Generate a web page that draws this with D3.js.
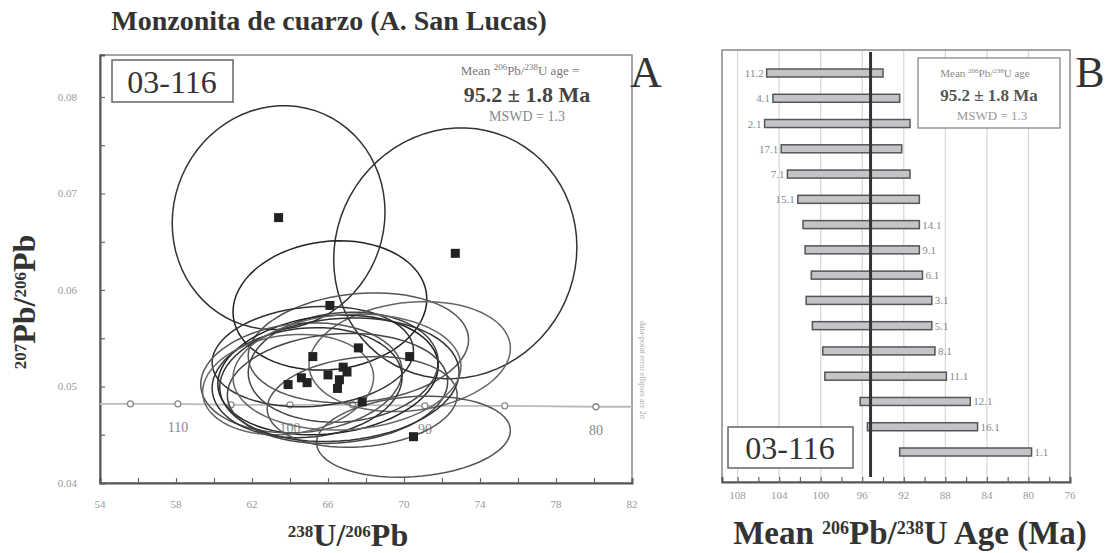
<!DOCTYPE html>
<html><head><meta charset="utf-8">
<script src="https://cdn.jsdelivr.net/npm/d3@7"></script>
<style>body{margin:0;background:#fff}svg{display:block}</style>
</head><body>
<svg id="fig" width="1107" height="553"></svg>
<script>
// ---- Panel A: Tera-Wasserburg plot of zircon spots ----
const spotX   = [63.4, 72.7, 66.1, 67.6, 65.2, 70.3, 66.8, 66.0, 64.6, 64.9, 63.9, 66.5, 67.8, 70.5, 66.6, 67.0];
const spotY   = [0.0675, 0.0638, 0.0584, 0.0540, 0.0531, 0.0531, 0.0520, 0.0512, 0.0509, 0.0504, 0.0502, 0.0498, 0.0484, 0.0448, 0.0507, 0.0515];
const spotSX  = [5.6, 6.4, 5.1, 5.8, 5.3, 5.3, 5.0, 5.8, 5.3, 5.0, 4.5, 5.8, 5.0, 5.1, 6.3, 6.0];
const spotSY  = [0.0116, 0.0130, 0.0067, 0.0057, 0.0052, 0.0057, 0.0057, 0.0062, 0.0057, 0.0057, 0.0052, 0.0057, 0.0047, 0.0042, 0.0064, 0.0060];
const spotRho = [0.05, 0.05, 0.10, 0.15, 0.12, 0.15, 0.10, 0.15, 0.12, 0.10, 0.15, 0.12, 0.15, 0.15, 0.12, 0.10];

// concordia curve and its age marks (Ma)
const concLineX = [54, 55.6, 58.1, 60.9, 64.0, 67.3, 71.1, 75.3, 80.1, 82];
const concLineY = [0.0482, 0.0482, 0.0482, 0.0481, 0.0481, 0.0481, 0.0480, 0.0480, 0.0479, 0.0479];
const concAges  = [115, 110, 105, 100, 95, 90, 85, 80];
const concX     = [55.6, 58.1, 60.9, 64.0, 67.3, 71.1, 75.3, 80.1];
const concY     = [0.0482, 0.0482, 0.0481, 0.0481, 0.0481, 0.0480, 0.0480, 0.0479];
const concLabelAges = [110, 100, 90, 80];

const ticksAX = [54, 58, 62, 66, 70, 74, 78, 82];
const ticksAY = [0.04, 0.05, 0.06, 0.07, 0.08];

// ---- Panel B: weighted mean of 206Pb/238U ages ----
const spotIds = ["11.2", "4.1", "2.1", "17.1", "7.1", "15.1", "14.1", "9.1", "6.1", "3.1", "5.1", "8.1", "11.1", "12.1", "16.1", "1.1"];
const spotAge = [99.6, 98.5, 98.4, 98.0, 97.3, 96.35, 96.1, 96.0, 95.55, 95.35, 95.05, 94.4, 93.75, 90.9, 90.2, 86.05];
const spotErr = [5.6, 6.1, 7.0, 5.8, 5.9, 5.85, 5.6, 5.5, 5.35, 6.05, 5.75, 5.4, 5.85, 5.3, 5.3, 6.35];
const labelsLeft = ["11.2", "4.1", "2.1", "17.1", "7.1", "15.1"];
const ticksB = [108, 104, 100, 96, 92, 88, 84, 80, 76];
const meanAge = 95.2, meanErr = 1.8, mswd = 1.3;
const sampleId = "03-116";

const serif = "'Liberation Serif', 'DejaVu Serif', serif";
const svg = d3.select("#fig");

// helper: text with superscript pieces
function richText(sel, parts, sup) {
  parts.forEach(p => {
    const ts = sel.append("tspan").text(p.t);
    if (p.sup) ts.attr("font-size", sup).attr("baseline-shift", "super");
  });
  return sel;
}

// =========== Panel A ===========
const A = { l: 100, r: 632, t: 55, b: 483 };
const xA = d3.scaleLinear().domain([54, 82]).range([A.l, A.r]);
const yA = d3.scaleLinear().domain([0.04, 0.08435]).range([A.b, A.t]);

svg.append("text").attr("x", 329).attr("y", 30).attr("text-anchor", "middle")
  .attr("font-family", serif).attr("font-weight", "bold").attr("font-size", 28)
  .attr("fill", "#333").text("Monzonita de cuarzo (A. San Lucas)");

svg.append("defs").append("clipPath").attr("id", "clipA")
  .append("rect").attr("x", A.l).attr("y", A.t).attr("width", A.r - A.l).attr("height", A.b - A.t);

// frame
svg.append("rect").attr("x", A.l).attr("y", A.t).attr("width", A.r - A.l).attr("height", A.b - A.t)
  .attr("fill", "none").attr("stroke", "#888").attr("stroke-width", 1.5);

// axes with inward ticks
const axA_x = svg.append("g").attr("transform", `translate(0,${A.b})`)
  .call(d3.axisBottom(xA).tickValues(d3.range(54, 82.01, 2)).tickSize(-5).tickFormat(""));
const axA_y = svg.append("g").attr("transform", `translate(${A.l},0)`)
  .call(d3.axisLeft(yA).tickValues(d3.range(0.04, 0.0801, 0.005)).tickSize(-5).tickFormat(""));
[axA_x, axA_y].forEach(g => {
  g.select(".domain").attr("stroke", "#555").attr("stroke-width", 2);
  g.selectAll(".tick line").attr("stroke", "#666").attr("stroke-width", 1.2);
});

svg.append("g").selectAll("text").data(ticksAX).join("text")
  .attr("x", d => xA(d)).attr("y", 508).attr("text-anchor", "middle")
  .attr("font-family", serif).attr("font-size", 11).attr("fill", "#999").text(d => d);
svg.append("g").selectAll("text").data(ticksAY).join("text")
  .attr("x", 77).attr("y", d => yA(d) + 4).attr("text-anchor", "end")
  .attr("font-family", serif).attr("font-size", 11).attr("fill", "#999").text(d => d.toFixed(2));

// axis titles
richText(svg.append("text").attr("x", 348).attr("y", 546).attr("text-anchor", "middle")
  .attr("font-family", serif).attr("font-weight", "bold").attr("font-size", 32).attr("fill", "#333"),
  [{ t: "238", sup: true }, { t: "U/" }, { t: "206", sup: true }, { t: "Pb" }], 17);
richText(svg.append("text").attr("transform", "translate(35,302) rotate(-90)").attr("text-anchor", "middle")
  .attr("font-family", serif).attr("font-weight", "bold").attr("font-size", 32).attr("fill", "#333"),
  [{ t: "207", sup: true }, { t: "Pb/" }, { t: "206", sup: true }, { t: "Pb" }], 17);

const plotA = svg.append("g").attr("clip-path", "url(#clipA)");

// concordia
plotA.append("path").datum(concLineX.map((x, i) => [x, concLineY[i]]))
  .attr("d", d3.line().x(d => xA(d[0])).y(d => yA(d[1])))
  .attr("fill", "none").attr("stroke", "#bbb").attr("stroke-width", 1.8);
plotA.append("g").selectAll("circle").data(concAges).join("circle")
  .attr("cx", (d, i) => xA(concX[i])).attr("cy", (d, i) => yA(concY[i])).attr("r", 3)
  .attr("fill", "#fff").attr("stroke", "#888").attr("stroke-width", 1.3);
plotA.append("g").selectAll("text").data(concLabelAges).join("text")
  .attr("x", d => xA(concX[concAges.indexOf(d)])).attr("y", d => yA(concY[concAges.indexOf(d)]) + 28)
  .attr("text-anchor", "middle").attr("font-family", serif).attr("font-size", 14).attr("fill", "#888").text(d => d);

// 2-sigma error ellipses
const ellipse = (i) => d3.range(0, 73).map(k => {
  const t = k / 72 * 2 * Math.PI, r = spotRho[i];
  return [spotX[i] + spotSX[i] * Math.cos(t),
          spotY[i] + spotSY[i] * (r * Math.cos(t) + Math.sqrt(1 - r * r) * Math.sin(t))];
});
const ellColors = ["#333", "#333", "#222", "#555", "#333", "#666", "#444", "#222", "#555", "#333", "#666", "#444", "#555", "#555", "#333", "#666"];
plotA.append("g").selectAll("path").data(spotX.map((_, i) => i)).join("path")
  .attr("d", i => d3.line().x(d => xA(d[0])).y(d => yA(d[1]))(ellipse(i)))
  .attr("fill", "none").attr("stroke", i => ellColors[i]).attr("stroke-width", 1.5);

// spot centres
plotA.append("g").selectAll("rect").data(spotX.map((_, i) => i)).join("rect")
  .attr("x", i => xA(spotX[i]) - 4.5).attr("y", i => yA(spotY[i]) - 4.5)
  .attr("width", 9).attr("height", 9).attr("fill", "#222");

// sample id box
svg.append("rect").attr("x", 112).attr("y", 60).attr("width", 121).attr("height", 42)
  .attr("fill", "#fff").attr("stroke", "#666").attr("stroke-width", 1.5);
svg.append("text").attr("x", 172).attr("y", 93).attr("text-anchor", "middle")
  .attr("font-family", serif).attr("font-size", 32).attr("fill", "#333").text(sampleId);

// stats text
richText(svg.append("text").attr("x", 520).attr("y", 75).attr("text-anchor", "middle")
  .attr("font-family", serif).attr("font-size", 13).attr("fill", "#777"),
  [{ t: "Mean " }, { t: "206", sup: true }, { t: "Pb/" }, { t: "238", sup: true }, { t: "U age =" }], 9);
svg.append("text").attr("x", 527).attr("y", 102).attr("text-anchor", "middle")
  .attr("font-family", serif).attr("font-weight", "bold").attr("font-size", 22).attr("fill", "#444")
  .text(`${meanAge} ± ${meanErr} Ma`);
svg.append("text").attr("x", 527).attr("y", 121).attr("text-anchor", "middle")
  .attr("font-family", serif).attr("font-size", 14).attr("fill", "#888").text(`MSWD = ${mswd}`);

svg.append("text").attr("x", 646).attr("y", 87).attr("text-anchor", "middle")
  .attr("font-family", serif).attr("font-size", 44).attr("fill", "#333").text("A");
svg.append("text").attr("transform", "translate(640,370) rotate(90)").attr("text-anchor", "middle")
  .attr("font-family", serif).attr("font-size", 8).attr("fill", "#aaa").text("data-point error ellipses are 2σ");

// =========== Panel B ===========
const B = { l: 722, r: 1070, t: 50, b: 482 };
const xB = d3.scaleLinear().domain([109.5, 76]).range([B.l, B.r]);
const yB = d3.scalePoint().domain(spotIds).range([73, 452]);

// grid
svg.append("g").selectAll("line").data(ticksB.filter(d => d > 76)).join("line")
  .attr("x1", d => xB(d)).attr("x2", d => xB(d)).attr("y1", B.t).attr("y2", B.b)
  .attr("stroke", "#d6d6d6").attr("stroke-width", 1.2);

svg.append("rect").attr("x", B.l).attr("y", B.t).attr("width", B.r - B.l).attr("height", B.b - B.t)
  .attr("fill", "none").attr("stroke", "#888").attr("stroke-width", 1.5);

const axB = svg.append("g").attr("transform", `translate(0,${B.b})`)
  .call(d3.axisBottom(xB).tickValues(d3.range(108, 75.9, -2)).tickSize(-5).tickFormat(""));
axB.select(".domain").attr("stroke", "#555").attr("stroke-width", 2);
axB.selectAll(".tick line").attr("stroke", "#666").attr("stroke-width", 1.2);

svg.append("g").selectAll("text").data(ticksB).join("text")
  .attr("x", d => xB(d)).attr("y", 499).attr("text-anchor", "middle")
  .attr("font-family", serif).attr("font-size", 11).attr("fill", "#999").text(d => d);

richText(svg.append("text").attr("x", 910).attr("y", 544).attr("text-anchor", "middle")
  .attr("font-family", serif).attr("font-weight", "bold").attr("font-size", 33).attr("fill", "#333"),
  [{ t: "Mean " }, { t: "206", sup: true }, { t: "Pb/" }, { t: "238", sup: true }, { t: "U Age (Ma)" }], 18);

// age bars
svg.append("g").selectAll("rect").data(spotIds).join("rect")
  .attr("x", (d, i) => xB(spotAge[i] + spotErr[i]))
  .attr("width", (d, i) => xB(spotAge[i] - spotErr[i]) - xB(spotAge[i] + spotErr[i]))
  .attr("y", d => yB(d) - 4).attr("height", 8)
  .attr("fill", "#c4c4c8").attr("stroke", "#555").attr("stroke-width", 1.5);

svg.append("g").selectAll("text").data(spotIds).join("text")
  .attr("x", (d, i) => labelsLeft.includes(d) ? xB(spotAge[i] + spotErr[i]) - 3 : xB(spotAge[i] - spotErr[i]) + 3)
  .attr("y", d => yB(d) + 4)
  .attr("text-anchor", d => labelsLeft.includes(d) ? "end" : "start")
  .attr("font-family", serif).attr("font-size", 11).attr("fill", "#888").text(d => d);

// weighted mean line
svg.append("line").attr("x1", xB(meanAge)).attr("x2", xB(meanAge)).attr("y1", B.t + 2).attr("y2", 477)
  .attr("stroke", "#333").attr("stroke-width", 3);

// stats box
svg.append("rect").attr("x", 918).attr("y", 58).attr("width", 142).attr("height", 70)
  .attr("fill", "#fff").attr("stroke", "#888").attr("stroke-width", 1.3);
richText(svg.append("text").attr("x", 985).attr("y", 77).attr("text-anchor", "middle")
  .attr("font-family", serif).attr("font-size", 11).attr("fill", "#888"),
  [{ t: "Mean " }, { t: "206", sup: true }, { t: "Pb/" }, { t: "238", sup: true }, { t: "U age" }], 7);
svg.append("text").attr("x", 989).attr("y", 101).attr("text-anchor", "middle")
  .attr("font-family", serif).attr("font-weight", "bold").attr("font-size", 17).attr("fill", "#555")
  .text(`${meanAge} ± ${meanErr} Ma`);
svg.append("text").attr("x", 992).attr("y", 120).attr("text-anchor", "middle")
  .attr("font-family", serif).attr("font-size", 13).attr("fill", "#999").text(`MSWD = ${mswd}`);

svg.append("rect").attr("x", 728).attr("y", 427).attr("width", 125).attr("height", 41)
  .attr("fill", "#fff").attr("stroke", "#666").attr("stroke-width", 1.5);
svg.append("text").attr("x", 790).attr("y", 459).attr("text-anchor", "middle")
  .attr("font-family", serif).attr("font-size", 32).attr("fill", "#333").text(sampleId);

svg.append("text").attr("x", 1090).attr("y", 87).attr("text-anchor", "middle")
  .attr("font-family", serif).attr("font-size", 44).attr("fill", "#333").text("B");
</script>
</body></html>
